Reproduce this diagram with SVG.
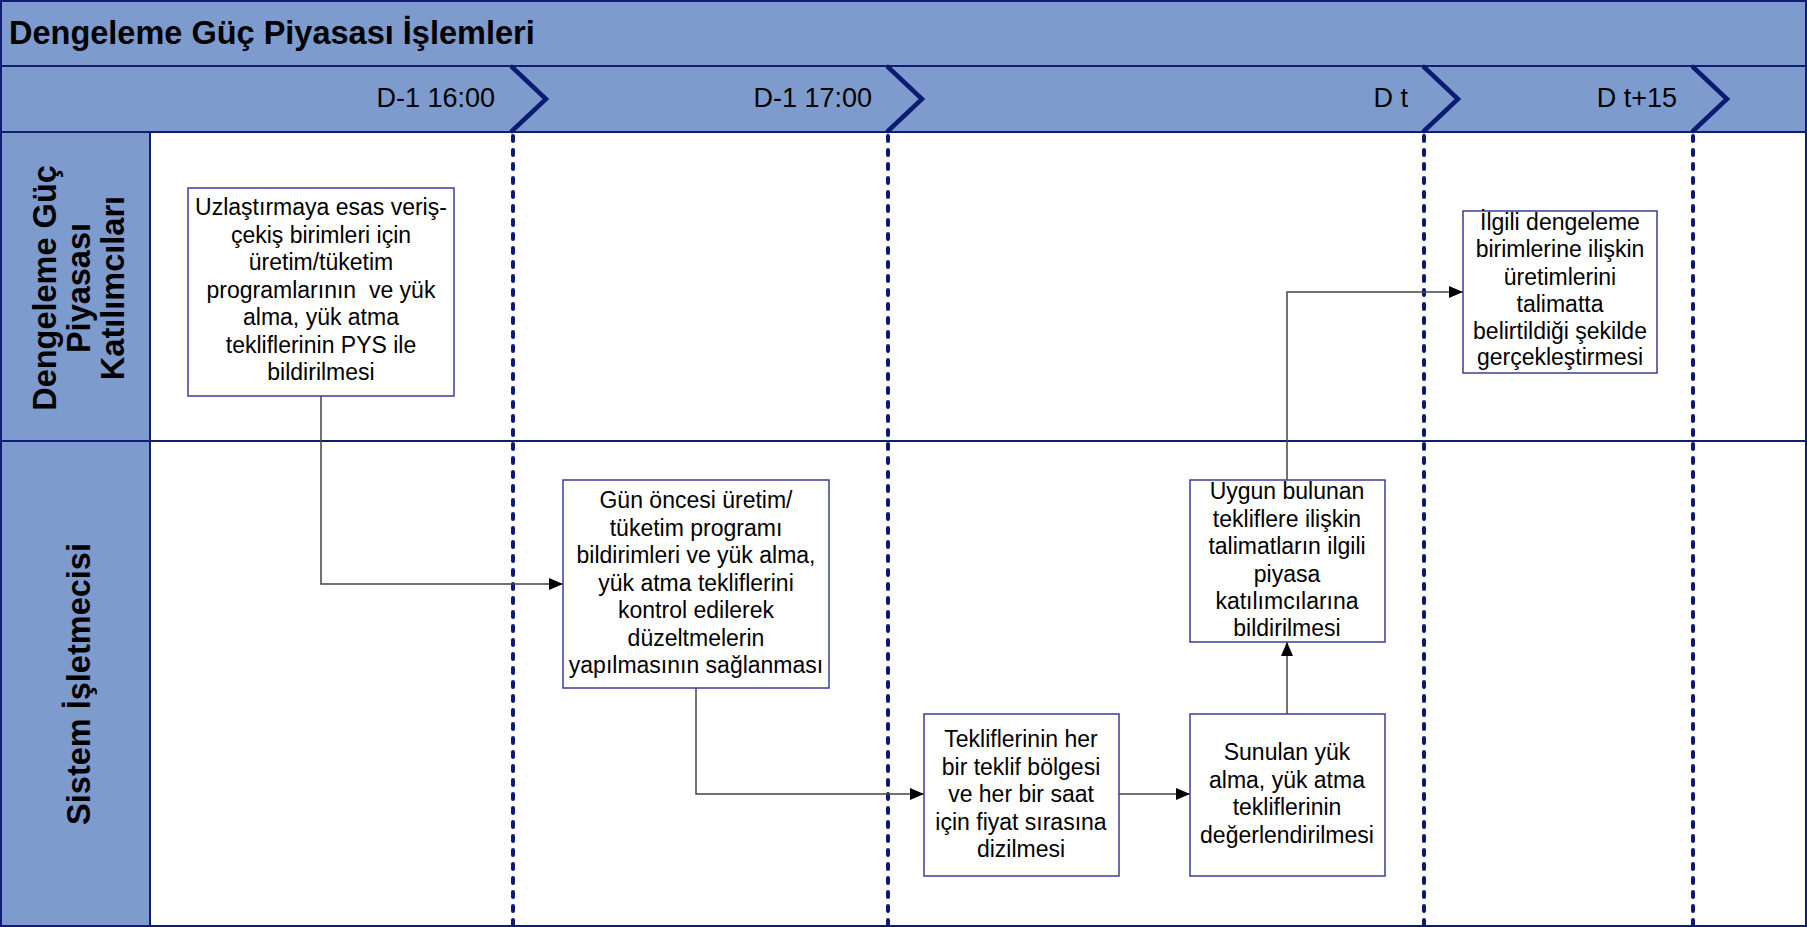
<svg xmlns="http://www.w3.org/2000/svg" width="1807" height="927" viewBox="0 0 1807 927">
<style>
.band{fill:#7e9bce;stroke:none}
.nav{stroke:#101d70;stroke-width:2;fill:none}
.chev{stroke:#0c1a72;stroke-width:4.5;fill:none;stroke-linejoin:miter;stroke-linecap:round}
.dot{stroke:#0c1a72;stroke-width:4;fill:none;stroke-dasharray:5 9;stroke-linecap:round}
.box{fill:#ffffff;stroke:#3c3c96;stroke-width:1.5}
.t{font-family:"Liberation Sans",Arial,sans-serif;font-size:23px;fill:#000;text-anchor:middle}
.tl{font-family:"Liberation Sans",Arial,sans-serif;font-size:27px;fill:#000;text-anchor:end}
.h{font-family:"Liberation Sans",Arial,sans-serif;font-size:32.5px;font-weight:bold;fill:#000;text-anchor:middle}
.title{font-family:"Liberation Sans",Arial,sans-serif;font-size:32.5px;font-weight:bold;fill:#000}
.con{stroke:#444;stroke-width:1.5;fill:none}
</style>
<defs>
<marker id="arr" markerUnits="userSpaceOnUse" markerWidth="15" markerHeight="13" refX="14" refY="6" orient="auto">
<path d="M0,0 L14,6 L0,12 z" fill="#000"/>
</marker>
</defs>
<rect width="1807" height="927" fill="#ffffff"/>
<g id="pool">
<rect class="band" x="1" y="1" width="1805" height="131"/>
<rect class="band" x="1" y="132" width="149" height="795"/>
<line class="nav" x1="1" y1="66" x2="1806" y2="66"/>
<line class="nav" x1="1" y1="132" x2="1806" y2="132"/>
<line class="nav" x1="1" y1="441" x2="1806" y2="441"/>
<line class="nav" x1="150" y1="132" x2="150" y2="927"/>
<rect class="nav" x="1" y="1" width="1805" height="925"/>
<text class="title" x="9" y="44">Dengeleme Güç Piyasası İşlemleri</text>
</g>
<g id="lane1">
<g transform="translate(78,288) rotate(-90)">
<text class="h" x="0" y="-22.5">Dengeleme Güç</text>
<text class="h" x="0" y="11.5">Piyasası</text>
<text class="h" x="0" y="45.5">Katılımcıları</text>
</g>
</g>
<g id="lane2">
<g transform="translate(78,684) rotate(-90)">
<text class="h" x="0" y="11.5">Sistem İşletmecisi</text>
</g>
</g>
<g id="timeline">
<text class="tl" x="495" y="107">D-1 16:00</text>
<text class="tl" x="872" y="107">D-1 17:00</text>
<text class="tl" x="1408" y="107">D t</text>
<text class="tl" x="1677" y="107">D t+15</text>
<polyline class="chev" points="512,67 546,99 512,131"/>
<polyline class="chev" points="888,67 922,99 888,131"/>
<polyline class="chev" points="1424,67 1458,99 1424,131"/>
<polyline class="chev" points="1693,67 1727,99 1693,131"/>
<line class="dot" x1="513" y1="136" x2="513" y2="927"/>
<line class="dot" x1="888" y1="136" x2="888" y2="927"/>
<line class="dot" x1="1424" y1="136" x2="1424" y2="927"/>
<line class="dot" x1="1693" y1="136" x2="1693" y2="927"/>
</g>
<g id="connectors">
<path class="con" d="M321,396 V584 H563" marker-end="url(#arr)"/>
<path class="con" d="M696,688 V794 H924" marker-end="url(#arr)"/>
<path class="con" d="M1119,794 H1190" marker-end="url(#arr)"/>
<path class="con" d="M1287,714 V642" marker-end="url(#arr)"/>
<path class="con" d="M1287,480 V292 H1463" marker-end="url(#arr)"/>
</g>
<g id="n1">
<rect class="box" x="188" y="188" width="266" height="208"/>
<text class="t" x="321" y="215">Uzlaştırmaya esas veriş-</text>
<text class="t" x="321" y="242.5">çekiş birimleri için</text>
<text class="t" x="321" y="270">üretim/tüketim</text>
<text class="t" x="321" y="297.5" xml:space="preserve">programlarının  ve yük</text>
<text class="t" x="321" y="325">alma, yük atma</text>
<text class="t" x="321" y="352.5">tekliflerinin PYS ile</text>
<text class="t" x="321" y="380">bildirilmesi</text>
</g>
<g id="n2">
<rect class="box" x="563" y="480" width="266" height="208"/>
<text class="t" x="696" y="508">Gün öncesi üretim/</text>
<text class="t" x="696" y="535.5">tüketim programı</text>
<text class="t" x="696" y="563">bildirimleri ve yük alma,</text>
<text class="t" x="696" y="590.5">yük atma tekliflerini</text>
<text class="t" x="696" y="618">kontrol edilerek</text>
<text class="t" x="696" y="645.5">düzeltmelerin</text>
<text class="t" x="696" y="673">yapılmasının sağlanması</text>
</g>
<g id="n3">
<rect class="box" x="1463" y="211" width="194" height="162"/>
<text class="t" x="1560" y="230">İlgili dengeleme</text>
<text class="t" x="1560" y="257">birimlerine ilişkin</text>
<text class="t" x="1560" y="284.5">üretimlerini</text>
<text class="t" x="1560" y="311.5">talimatta</text>
<text class="t" x="1560" y="338.5">belirtildiği şekilde</text>
<text class="t" x="1560" y="365">gerçekleştirmesi</text>
</g>
<g id="n4">
<rect class="box" x="1190" y="480" width="195" height="162"/>
<text class="t" x="1287" y="499">Uygun bulunan</text>
<text class="t" x="1287" y="526.5">tekliflere ilişkin</text>
<text class="t" x="1287" y="554">talimatların ilgili</text>
<text class="t" x="1287" y="581.5">piyasa</text>
<text class="t" x="1287" y="609">katılımcılarına</text>
<text class="t" x="1287" y="636">bildirilmesi</text>
</g>
<g id="n5">
<rect class="box" x="924" y="714" width="195" height="162"/>
<text class="t" x="1021" y="747">Tekliflerinin her</text>
<text class="t" x="1021" y="774.5">bir teklif bölgesi</text>
<text class="t" x="1021" y="802">ve her bir saat</text>
<text class="t" x="1021" y="829.5">için fiyat sırasına</text>
<text class="t" x="1021" y="857">dizilmesi</text>
</g>
<g id="n6">
<rect class="box" x="1190" y="714" width="195" height="162"/>
<text class="t" x="1287" y="760">Sunulan yük</text>
<text class="t" x="1287" y="787.5">alma, yük atma</text>
<text class="t" x="1287" y="815">tekliflerinin</text>
<text class="t" x="1287" y="842.5">değerlendirilmesi</text>
</g>
</svg>
